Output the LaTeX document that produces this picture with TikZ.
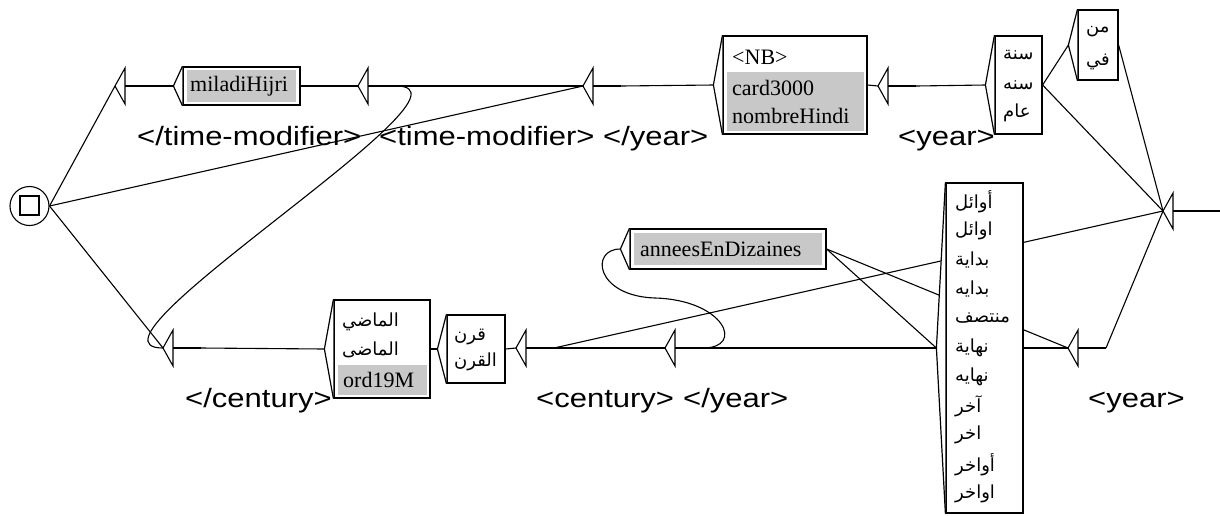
\documentclass[tikz,border=0pt]{standalone}
\usepackage{fontspec}
\setmainfont{Liberation Serif}
\newfontfamily\lblfont[FakeStretch=1.17]{Liberation Sans}
\newfontfamily\arab[Script=Arabic]{DejaVu Sans}
\TeXXeTstate=1
\usetikzlibrary{backgrounds}
\definecolor{ugray}{RGB}{200,200,200}
\newcommand\etri[5]{% name, tip x, y, label x, label
  \coordinate (#1tip) at (#2,#3);
  \coordinate (#1base) at (#2+10,#3);
  \coordinate (#1in) at (#2+38,#3);
  \draw[tri] (#1tip) -- ([yshift=18pt]#1base) -- ([yshift=-18pt]#1base) -- cycle;
  \draw[conn] (#1base) -- (#1in);
  \node[lbl] (#1lbl) at (#4,#3+59.5) {#5};
}
\newcommand\chev[1]{%
  \filldraw[boxline] (#1.north west) -- ([xshift=-9pt]#1.west) -- (#1.south west);
  \coordinate (#1out) at ([xshift=-9pt]#1.west);
}
\begin{document}
\begin{tikzpicture}[x=1pt,y=-1pt,
  conn/.style={line width=1.1pt},
  boxline/.style={draw, line width=1.2pt, fill=white, line join=miter},
  boxst/.style={draw, line width=1.2pt, fill=white, inner sep=0pt, rectangle},
  lat/.style={anchor=west, inner sep=0pt, font=\fontsize{22}{24}\selectfont},
  ar/.style={anchor=west, inner sep=0pt, font=\arab\fontsize{18}{20}\selectfont},
  lbl/.style={anchor=base west, inner sep=0pt, font=\lblfont\fontsize{26.5}{30}\selectfont},
  tri/.style={draw, line width=1.1pt, fill=white, line join=miter},
  graybg/.style={fill=ugray}
]
\useasboundingbox (0,0) rectangle (1220,515);

% final state
\node[circle, draw, line width=1.1pt, minimum size=39pt, inner sep=0pt, fill=white] (fin) at (29.5,206) {};
\node[draw, line width=1.4pt, minimum size=19pt, inner sep=0pt] (finsq) at (29.5,205.5) {};

% initial state
\coordinate (init) at (1163,211);
\coordinate (initend) at (1220,211);
\draw[tri] (init) -- (1173,193) -- (1173,229) -- cycle;
\draw[conn] (1173,211) -- (initend);

% boxes
\node[boxst, minimum width=117pt, minimum height=38pt] (mil) at (241.5,86) {};
\chev{mil}
\fill[graybg] (187,70) rectangle (296,102);
\node[lat] (milt) at (190,86) {miladiHijri};

\node[boxst, minimum width=144pt, minimum height=98pt] (nb) at (795,85) {};
\chev{nb}
\fill[graybg] (727,72) rectangle (864,131);
\node[lat] (nbt1) at (732,57) {<NB>};
\node[lat] (nbt2) at (732,88) {card3000};
\node[lat] (nbt3) at (732,116) {nombreHindi};

\node[boxst, minimum width=47pt, minimum height=98pt] (sana) at (1018.5,85) {};
\chev{sana}
\node[ar] (sana1) at (1003,55) {\beginR سنة\endR};
\node[ar] (sana2) at (1003,85) {\beginR سنه\endR};
\node[ar] (sana3) at (1003,113) {\beginR عام\endR};

\node[boxst, minimum width=40pt, minimum height=70pt] (min) at (1098,45) {};
\chev{min}
\node[ar] (min1) at (1086,32) {\beginR من\endR};
\node[ar] (min2) at (1086,62) {\beginR في\endR};

\node[boxst, minimum width=77pt, minimum height=330pt] (big) at (984.5,348) {};
\chev{big}
\foreach \w [count=\i from 0] in {أوائل,اوائل,بداية,بدايه,منتصف,نهاية,نهايه,آخر,اخر,أواخر,اواخر}{
  \node[ar] (big\i) at (955,201.7+29.2*\i) {\beginR\w\endR};
}

\node[boxst, minimum width=196pt, minimum height=40pt] (ann) at (728,249) {};
\chev{ann}
\fill[graybg] (634,233) rectangle (822,265);
\node[lat] (annt) at (640,249) {anneesEnDizaines};

\node[boxst, minimum width=58pt, minimum height=68pt] (qarn) at (476,349) {};
\chev{qarn}
\node[ar] (qarn1) at (454,337) {\beginR قرن\endR};
\node[ar] (qarn2) at (454,362) {\beginR القرن\endR};

\node[boxst, minimum width=96pt, minimum height=98pt] (mad) at (382,349) {};
\chev{mad}
\fill[graybg] (338,365) rectangle (427,395);
\node[ar] (mad1) at (342,322) {\beginR الماضي\endR};
\node[ar] (mad2) at (342,350) {\beginR الماضى\endR};
\node[lat] (mad3) at (343,380) {ord19M};

% epsilon boxes with outputs
\etri{T1}{115}{86}{137}{</time-modifier>}
\etri{T2}{358}{86}{379}{<time-modifier>}
\etri{T3}{583}{86}{603}{</year>}
\etri{T4}{878}{86}{898}{<year>}
\etri{T5}{163}{348}{185}{</century>}
\etri{T6}{516}{348}{536}{<century>}
\etri{T7}{665}{348}{683}{</year>}
\etri{T8}{1068}{348}{1088}{<year>}

\coordinate (annmid) at (655,298);

% connectors
\begin{pgfonlayer}{background}
\draw[conn] (init) -- (min.east);
\draw[conn] (init) -- (sana.east);
\draw[conn] (init) -- (T8in);
\draw[conn] (init) -- (T6in);
\draw[conn] (minout) -- (sana.east);
\draw[conn] (sanaout) -- (T4in);
\draw[conn] (T4tip) -- (nb.east);
\draw[conn] (nbout) -- (T3in);
\draw[conn] (T3tip) -- (T2in);
\draw[conn] (T3tip) -- (fin.east);
\draw[conn] (T2tip) -- (mil.east);
\draw[conn] (milout) -- (T1in);
\draw[conn] (T1tip) -- (fin.east);
\draw[conn] (T8tip) -- (big.east);
\draw[conn] (T8tip) -- (ann.east);
\draw[conn] (bigout) -- (ann.east);
\draw[conn] (bigout) -- (T7in);
\draw[conn] (annout) .. controls (590,249) and (595,296) .. (annmid)
                     .. controls (725,300) and (745,348) .. (T7in);
\draw[conn] (T7tip) -- (T6in);
\draw[conn] (T6tip) -- (qarn.east);
\draw[conn] (qarnout) -- (mad.east);
\draw[conn] (madout) -- (T5in);
\draw[conn] (T5tip) -- (fin.east);
\draw[conn] (T5tip) .. controls ([xshift=-100pt]T5tip) and ([xshift=100pt]T2in) .. (T2in);
\end{pgfonlayer}
\end{tikzpicture}
\end{document}
